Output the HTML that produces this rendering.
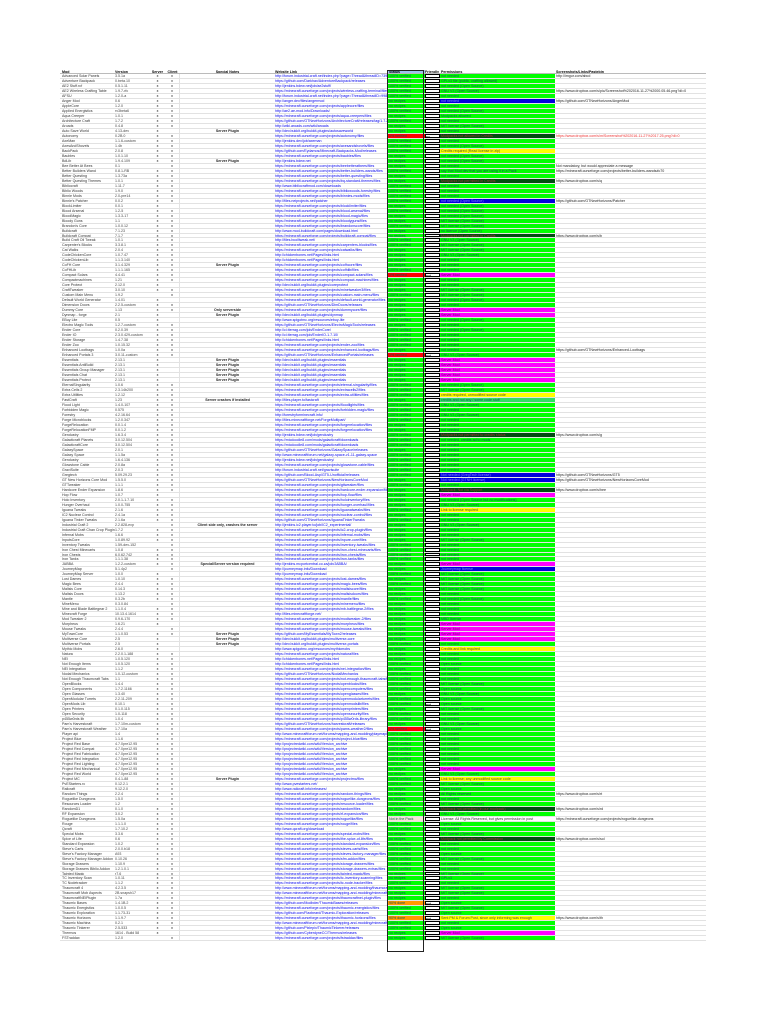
<!DOCTYPE html>
<html><head><meta charset="utf-8"><style>
html,body{margin:0;padding:0;background:#fff;width:768px;height:1024px;overflow:hidden}
body{font-family:"Liberation Sans",sans-serif;position:relative}
#t{position:absolute;left:60px;top:70px;width:646px}
.r{display:flex;height:4.99px;box-sizing:border-box;border-bottom:0.4px solid #e2e2e2;font-size:3.6px;line-height:4.6px;white-space:nowrap}
.r span{display:block;overflow:hidden;box-sizing:border-box;height:100%}
.r span:nth-child(1){width:55px;padding-left:2px;color:#333}
.r span:nth-child(2){width:35px;color:#444}
.r span:nth-child(3){width:15px;text-align:center}
.r span:nth-child(4){width:15px;text-align:center;border-right:0.4px solid #e2e2e2}
.r span:nth-child(5){width:95px;text-align:center;font-weight:bold;color:#222}
.r span:nth-child(6){width:113px;color:#0000ee;text-decoration:underline;text-decoration-thickness:0.8px}
.r span:nth-child(7){width:37px;background:#00ff00;color:#155;padding-left:1px}
.r span:nth-child(8){width:15px;background:#fff;border:0.8px solid #000;border-left-width:1.2px;border-right-width:1.2px}
.r span:nth-child(9){width:115px;background:#00ff00;color:#155;padding-left:1px}
.r span:nth-child(10){width:150px;color:#222;padding-left:1px;text-decoration:underline}
.h{height:4px;font-weight:bold;border-bottom:0.4px solid #bbb}
.h span{background:none!important;border:none!important;color:#000!important;text-decoration:none!important}
.h span:nth-child(7){background:#9cc3ee!important}
.sr span:nth-child(7){background:#ff0000}
.so span:nth-child(7){background:#ff9900}
.sb span:nth-child(7){background:#f3e7d6}
.pb span:nth-child(9){background:#0000dd;color:#88f}
.pd span:nth-child(9){background:#004d10;color:#a33}
.pm span:nth-child(9){background:#ff00ff;color:#606}
.py span:nth-child(9){background:#ffff00;color:#552}
.pl span:nth-child(9){background:#33dd66}
.pw span:nth-child(9){background:#fff;color:#333}
.rl span:nth-child(10){color:#e33}
#stb{position:absolute;left:387px;top:70px;width:37px;height:882px;border:1.3px solid #222;box-sizing:border-box;pointer-events:none}
</style></head><body>
<div id="t">
<div class="r h"><span>Mod</span><span>Version</span><span>Server</span><span>Client</span><span>Special Notes</span><span>Website Link</span><span>Status</span><span>Friendly</span><span>Permissions</span><span>Screenshots/Links/Pastebin</span></div>
<div class="r"><span>Advanced Solar Panels</span><span>3.5.1a</span><span>x</span><span>x</span><span></span><span>http://forum.industrial-craft.net/index.php?page=Thread&amp;threadID=7390</span><span>100% verified</span><span></span><span>not needed</span><span>http://imgur.com/abcd</span></div>
<div class="r"><span>Adventure Backpack</span><span>0.beta.10</span><span>x</span><span>x</span><span></span><span>https://github.com/Darkhax/AdventureBackpack/releases</span><span>100% verified</span><span></span><span>GPLv3 file (public, crafting allowed)</span><span></span></div>
<div class="r"><span>AE2 Stuff.rcf</span><span>0.5.1.11</span><span>x</span><span>x</span><span></span><span>http://jenkins.bdew.net/job/ae2stuff/</span><span>100% verified</span><span></span><span>not needed (Open Source)</span><span></span></div>
<div class="r"><span>AE2 Wireless Crafting Table</span><span>1.9.7-rfc</span><span>x</span><span>x</span><span></span><span>https://minecraft.curseforge.com/projects/wireless-crafting-terminal/files</span><span>100% verified</span><span></span><span>GNU V3 (Open Source)</span><span>https://www.dropbox.com/s/pic/Screenshot%202016-11-27%2000.05.46.png?dl=0</span></div>
<div class="r"><span>AFSU</span><span>1.2.0-a</span><span>x</span><span>x</span><span></span><span>http://forum.industrial-craft.net/index.php?page=Thread&amp;threadID=9981</span><span>100% verified</span><span></span><span>not needed</span><span></span></div>
<div class="r pb"><span>Anger Mod</span><span>0.6</span><span>x</span><span>x</span><span></span><span>http://anger.dev/files/angermod</span><span>no recipes</span><span></span><span>not needed</span><span>https://github.com/GTNewHorizons/AngerMod</span></div>
<div class="r"><span>AppleCore</span><span>1.2.0</span><span>x</span><span>x</span><span></span><span>https://minecraft.curseforge.com/projects/applecore/files</span><span>no recipes</span><span></span><span>not needed</span><span></span></div>
<div class="r"><span>Applied Energistics</span><span>rv3beta6</span><span>x</span><span>x</span><span></span><span>http://ae2.ae-mod.info/Downloads/</span><span>100% verified</span><span></span><span>not needed (Open Source)</span><span></span></div>
<div class="r"><span>Aqua Creeper</span><span>1.0.1</span><span>x</span><span>x</span><span></span><span>https://minecraft.curseforge.com/projects/aqua-creepers/files</span><span>no recipes</span><span></span><span>Modpacks allowed</span><span></span></div>
<div class="r"><span>Architecture Craft</span><span>1.7.2</span><span>x</span><span>x</span><span></span><span>https://github.com/GTNewHorizons/ArchitectureCraft/releases/tag/1.7.2</span><span>100% verified</span><span></span><span>not needed</span><span></span></div>
<div class="r"><span>Aroads</span><span>0.4.8</span><span>x</span><span>x</span><span></span><span>http://wiki.aroads.com/wiki/aroads</span><span>no recipes</span><span></span><span>MIT license (Open Source)</span><span></span></div>
<div class="r"><span>Auto Save World</span><span>4.13-dev</span><span>x</span><span></span><span>Server Plugin</span><span>http://dev.bukkit.org/bukkit-plugins/autosaveworld</span><span>no recipes</span><span></span><span>not needed</span><span></span></div>
<div class="r sr pd rl"><span>Autonomy</span><span>0.2B.0</span><span>x</span><span>x</span><span></span><span>https://minecraft.curseforge.com/projects/autonomy/files</span><span>1% verified</span><span>no</span><span>Modpacks not allowed in Credits</span><span>https://www.dropbox.com/s/m/Screenshot%202016-11-27%2017.25.png?dl=0</span></div>
<div class="r"><span>AxeMan</span><span>1.1.6-custom</span><span>x</span><span>x</span><span></span><span>http://jenkins.dev/job/axeman</span><span>100% verified</span><span></span><span>not needed</span><span></span></div>
<div class="r"><span>AxesAndShovels</span><span>1.4b</span><span>x</span><span>x</span><span></span><span>https://minecraft.curseforge.com/projects/axesandshovels/files</span><span>100% verified</span><span></span><span>not needed (Open Source)</span><span></span></div>
<div class="r py"><span>BackPack</span><span>2.0.8</span><span>x</span><span>x</span><span></span><span>https://github.com/Eydamos/Minecraft-Backpacks-Mod/releases</span><span>100% verified</span><span></span><span>Credits required (Read license in zip)</span><span></span></div>
<div class="r"><span>Baubles</span><span>1.0.1.10</span><span>x</span><span>x</span><span></span><span>https://minecraft.curseforge.com/projects/baubles/files</span><span>no recipes</span><span></span><span>not needed (Open Source)</span><span></span></div>
<div class="r"><span>BdLib</span><span>1.9.4.109</span><span>x</span><span>x</span><span>Server Plugin</span><span>http://jenkins.bdew.net</span><span>no recipes</span><span></span><span>not needed (Open Source)</span><span></span></div>
<div class="r"><span>Bee Better At Bees</span><span>0.1</span><span></span><span>x</span><span></span><span>https://minecraft.curseforge.com/projects/beebetteratbees/files</span><span>no recipes</span><span></span><span>not needed</span><span>Not mandatory, but would appreciate a message</span></div>
<div class="r"><span>Better Builders Wand</span><span>0.8.1-RB</span><span>x</span><span>x</span><span></span><span>https://minecraft.curseforge.com/projects/better-builders-wands/files</span><span>100% verified</span><span></span><span>say that Mod dev that you are using it in a Pack</span><span>https://minecraft.curseforge.com/projects/better-builders-wands#c70</span></div>
<div class="r"><span>Better Questing</span><span>1.3.73a</span><span>x</span><span>x</span><span></span><span>https://minecraft.curseforge.com/projects/better-questing/files</span><span>no recipes</span><span></span><span>not needed</span><span></span></div>
<div class="r pd"><span>Better Questing Themes</span><span>1.0.1</span><span>x</span><span>x</span><span></span><span>https://minecraft.curseforge.com/projects/bq-standard-themes/files</span><span>no recipes</span><span></span><span>Modpacks not permitted in Credits</span><span>https://www.dropbox.com/s/q</span></div>
<div class="r"><span>Bibliocraft</span><span>1.11.7</span><span>x</span><span>x</span><span></span><span>http://www.bibliocraftmod.com/downloads</span><span>100% verified</span><span></span><span>not needed</span><span></span></div>
<div class="r"><span>Biblio Woods</span><span>1.9.0</span><span>x</span><span>x</span><span></span><span>https://minecraft.curseforge.com/projects/bibliowoods-forestry/files</span><span>100% verified</span><span></span><span>not needed</span><span></span></div>
<div class="r"><span>Binnie Mods</span><span>2.0-pre14</span><span>x</span><span>x</span><span></span><span>https://minecraft.curseforge.com/projects/binnies-mods/files</span><span>100% verified</span><span></span><span>not needed</span><span></span></div>
<div class="r pb"><span>Binnie's Patcher</span><span>0.0.2</span><span>x</span><span>x</span><span></span><span>http://files.neiprojects.net/patcher</span><span>100% verified</span><span></span><span>not needed (Open Source)</span><span>https://github.com/GTNewHorizons/Patcher</span></div>
<div class="r"><span>BlockLimiter</span><span>0.0.1</span><span>x</span><span></span><span></span><span>https://minecraft.curseforge.com/projects/blocklimiter/files</span><span>no recipes</span><span></span><span>not needed (Open Source)</span><span></span></div>
<div class="r"><span>Blood Arsenal</span><span>1.2-5</span><span>x</span><span>x</span><span></span><span>https://minecraft.curseforge.com/projects/blood-arsenal/files</span><span>100% verified</span><span></span><span>not needed (Open Source)</span><span></span></div>
<div class="r"><span>BloodMagic</span><span>1.3.3-17</span><span>x</span><span>x</span><span></span><span>https://minecraft.curseforge.com/projects/blood-magic/files</span><span>no recipes</span><span></span><span>not needed (Open Source)</span><span></span></div>
<div class="r"><span>Bloody Guns</span><span>1.1</span><span>x</span><span>x</span><span></span><span>https://minecraft.curseforge.com/projects/bloodyguns/files</span><span>no recipes</span><span></span><span>MIT license (Open Source)</span><span></span></div>
<div class="r"><span>Brandon's Core</span><span>1.0.0.12</span><span>x</span><span>x</span><span></span><span>https://minecraft.curseforge.com/projects/brandonscore/files</span><span>100% verified</span><span></span><span>MIT license (Open Source)</span><span></span></div>
<div class="r"><span>Buildcraft</span><span>7.1.23</span><span>x</span><span>x</span><span></span><span>http://www.mod-buildcraft.com/pages/download.html</span><span>no recipes</span><span></span><span>no licence (Open Source)</span><span></span></div>
<div class="r pd"><span>Buildcraft Compat</span><span>7.1.7</span><span>x</span><span>x</span><span></span><span>https://minecraft.curseforge.com/projects/buildcraft-compat/files</span><span>no recipes</span><span></span><span>Modpacks not permitted in Credits</span><span>https://www.dropbox.com/s/b</span></div>
<div class="r"><span>Build Craft Oil Tweak</span><span>1.0.1</span><span>x</span><span>x</span><span></span><span>http://files.bcoiltweak.net/</span><span>100% verified</span><span></span><span>GNU V3 (Open Source)</span><span></span></div>
<div class="r"><span>Carpenter's Blocks</span><span>3.3.8.1</span><span>x</span><span>x</span><span></span><span>https://minecraft.curseforge.com/projects/carpenters-blocks/files</span><span>100% verified</span><span></span><span>MIT license (Open Source)</span><span></span></div>
<div class="r"><span>Cat Walks</span><span>2.0.4</span><span>x</span><span>x</span><span></span><span>https://minecraft.curseforge.com/projects/catwalks/files</span><span>no recipes</span><span></span><span>MIT license (Open Source)</span><span></span></div>
<div class="r"><span>CodeChickenCore</span><span>1.0.7.47</span><span>x</span><span>x</span><span></span><span>http://chickenbones.net/Pages/links.html</span><span>no recipes</span><span></span><span>GNU V3 (Open Source)</span><span></span></div>
<div class="r"><span>CodeChickenLib</span><span>1.1.3.140</span><span>x</span><span>x</span><span></span><span>http://chickenbones.net/Pages/links.html</span><span>no recipes</span><span></span><span>not needed</span><span></span></div>
<div class="r"><span>CoFH Core</span><span>3.1.4.329</span><span>x</span><span>x</span><span>Server Plugin</span><span>https://minecraft.curseforge.com/projects/cofhcore/files</span><span>no recipes</span><span></span><span>not needed</span><span></span></div>
<div class="r"><span>CoFHLib</span><span>1.1.1.165</span><span>x</span><span>x</span><span></span><span>https://minecraft.curseforge.com/projects/cofhlib/files</span><span>100% verified</span><span></span><span>not needed</span><span></span></div>
<div class="r sr pm"><span>Compact Solars</span><span>4.4.41</span><span>x</span><span>x</span><span></span><span>https://minecraft.curseforge.com/projects/compact-solars/files</span><span>1% verified</span><span>not</span><span>Server Mod</span><span></span></div>
<div class="r"><span>Compactmachines</span><span>1.21</span><span>x</span><span>x</span><span></span><span>https://minecraft.curseforge.com/projects/compact-machines/files</span><span>no recipes</span><span></span><span>not needed</span><span></span></div>
<div class="r"><span>Core Protect</span><span>2.12.0</span><span>x</span><span></span><span></span><span>http://dev.bukkit.org/bukkit-plugins/coreprotect</span><span>no recipes</span><span></span><span>not needed</span><span></span></div>
<div class="r"><span>CraftTweaker</span><span>3.0.10</span><span>x</span><span>x</span><span></span><span>https://minecraft.curseforge.com/projects/minetweaker3/files</span><span>no recipes</span><span></span><span>MIT license (Open Source)</span><span></span></div>
<div class="r"><span>Custom Main Menu</span><span>1.9.2</span><span></span><span>x</span><span></span><span>https://minecraft.curseforge.com/projects/custom-main-menu/files</span><span>100% verified</span><span></span><span>MIT license (Open Source)</span><span></span></div>
<div class="r"><span>Default World Generator</span><span>1.4.01</span><span>x</span><span></span><span></span><span>https://minecraft.curseforge.com/projects/default-world-generator/files</span><span>no recipes</span><span></span><span>not needed (Open Source)</span><span></span></div>
<div class="r"><span>Dimension Doors</span><span>2.2.5-custom</span><span>x</span><span>x</span><span></span><span>https://github.com/GTNewHorizons/DimDoors/releases</span><span>no recipes</span><span></span><span>not needed</span><span></span></div>
<div class="r pm"><span>Dummy Core</span><span>1.13</span><span>x</span><span>x</span><span>Only serverside</span><span>https://minecraft.curseforge.com/projects/dummycore/files</span><span>no recipes</span><span></span><span>Server Mod</span><span></span></div>
<div class="r pm"><span>Dynmap - forge</span><span>2.1</span><span>x</span><span></span><span>Server Plugin</span><span>http://dev.bukkit.org/bukkit-plugins/dynmap</span><span>no recipes</span><span></span><span>Server Mod</span><span></span></div>
<div class="r"><span>EBuy Lite</span><span>0.5</span><span>x</span><span></span><span></span><span>http://www.spigotmc.org/resources/ebuy-lite</span><span>100% verified</span><span></span><span>not needed (Open Source)</span><span></span></div>
<div class="r"><span>Electro Magic Tools</span><span>1.2.7-custom</span><span>x</span><span>x</span><span></span><span>https://github.com/GTNewHorizons/ElectroMagicTools/releases</span><span>no recipes</span><span></span><span>not needed</span><span></span></div>
<div class="r"><span>Ender Core</span><span>0.2.0.39</span><span>x</span><span>x</span><span></span><span>http://ci.tterrag.com/job/EnderCore/</span><span>100% verified</span><span></span><span>not needed (Open Source)</span><span></span></div>
<div class="r"><span>Ender IO</span><span>2.3.0.429-custom</span><span>x</span><span>x</span><span></span><span>http://ci.tterrag.com/job/EnderIO-1.7.10/</span><span>100% verified</span><span></span><span>not needed</span><span></span></div>
<div class="r"><span>Ender Storage</span><span>1.4.7.38</span><span>x</span><span>x</span><span></span><span>http://chickenbones.net/Pages/links.html</span><span>100% verified</span><span></span><span>not needed</span><span></span></div>
<div class="r"><span>Ender Zoo</span><span>1.0.15.32</span><span>x</span><span>x</span><span></span><span>https://minecraft.curseforge.com/projects/ender-zoo/files</span><span>100% verified</span><span></span><span>not needed</span><span></span></div>
<div class="r"><span>Enhanced Lootbags</span><span>1.0.0a</span><span>x</span><span>x</span><span></span><span>https://minecraft.curseforge.com/projects/enhanced-lootbags/files</span><span>no recipes</span><span></span><span>not needed</span><span>https://github.com/GTNewHorizons/Enhanced-Lootbags</span></div>
<div class="r sr"><span>Enhanced Portals 3</span><span>3.0.11-custom</span><span>x</span><span>x</span><span></span><span>https://github.com/GTNewHorizons/EnhancedPortals/releases</span><span>1% verified</span><span>not</span><span>GNU V3 (Open Source)</span><span></span></div>
<div class="r pm"><span>Essentials</span><span>2.13.1</span><span>x</span><span></span><span>Server Plugin</span><span>http://dev.bukkit.org/bukkit-plugins/essentials</span><span>no recipes</span><span></span><span>Server Mod</span><span></span></div>
<div class="r pm"><span>Essentials AntiBuild</span><span>2.13.1</span><span>x</span><span></span><span>Server Plugin</span><span>http://dev.bukkit.org/bukkit-plugins/essentials</span><span>no recipes</span><span></span><span>Server Mod</span><span></span></div>
<div class="r pm"><span>Essentials Group Manager</span><span>2.13.1</span><span>x</span><span></span><span>Server Plugin</span><span>http://dev.bukkit.org/bukkit-plugins/essentials</span><span>no recipes</span><span></span><span>Server Mod</span><span></span></div>
<div class="r pm"><span>Essentials Chat</span><span>2.13.1</span><span>x</span><span></span><span>Server Plugin</span><span>http://dev.bukkit.org/bukkit-plugins/essentials</span><span>no recipes</span><span></span><span>Server Mod</span><span></span></div>
<div class="r pm"><span>Essentials Protect</span><span>2.13.1</span><span>x</span><span></span><span>Server Plugin</span><span>http://dev.bukkit.org/bukkit-plugins/essentials</span><span>no recipes</span><span></span><span>Server Mod</span><span></span></div>
<div class="r"><span>EternalSingularity</span><span>1.0.6</span><span>x</span><span>x</span><span></span><span>https://minecraft.curseforge.com/projects/eternal-singularity/files</span><span>100% verified</span><span></span><span>not needed (Open Source)</span><span></span></div>
<div class="r"><span>Extra Cells 2</span><span>2.3.14b200</span><span>x</span><span>x</span><span></span><span>https://minecraft.curseforge.com/projects/extracells2/files</span><span>100% verified</span><span></span><span>MIT license (Open Source)</span><span></span></div>
<div class="r py"><span>Extra Utilities</span><span>1.2.12</span><span>x</span><span>x</span><span></span><span>https://minecraft.curseforge.com/projects/extra-utilities/files</span><span>100% verified</span><span></span><span>credits required, unmodified source code</span><span></span></div>
<div class="r pl"><span>FastCraft</span><span>1.23</span><span>x</span><span>x</span><span>Server crashes if installed</span><span>http://files.player.to/fastcraft</span><span>no recipes</span><span></span><span>credits and not any / some code stuff</span><span></span></div>
<div class="r"><span>Flood Light</span><span>1.4.0-107</span><span>x</span><span>x</span><span></span><span>https://minecraft.curseforge.com/projects/floodlights/files</span><span>100% verified</span><span></span><span>GNU V3 (Open Source)</span><span></span></div>
<div class="r"><span>Forbidden Magic</span><span>0.575</span><span>x</span><span>x</span><span></span><span>https://minecraft.curseforge.com/projects/forbidden-magic/files</span><span>100% verified</span><span></span><span>not needed</span><span></span></div>
<div class="r"><span>Forestry</span><span>4.2.16.64</span><span>x</span><span>x</span><span></span><span>http://forestryforminecraft.info/</span><span>100% verified</span><span></span><span>GNU V3 (Open Source)</span><span></span></div>
<div class="r"><span>Forge Microblocks</span><span>1.2.0.347</span><span>x</span><span>x</span><span></span><span>http://files.minecraftforge.net/ForgeMultipart/</span><span>100% verified</span><span></span><span>not needed</span><span></span></div>
<div class="r"><span>ForgeRelocation</span><span>0.0.1.4</span><span>x</span><span>x</span><span></span><span>https://minecraft.curseforge.com/projects/forgerelocation/files</span><span>no recipes</span><span></span><span>not needed</span><span></span></div>
<div class="r"><span>ForgeRelocationFMP</span><span>0.0.1.2</span><span>x</span><span>x</span><span></span><span>https://minecraft.curseforge.com/projects/forgerelocation/files</span><span>no recipes</span><span></span><span>not needed</span><span></span></div>
<div class="r pd"><span>Gendustry</span><span>1.6.3.4</span><span>x</span><span>x</span><span></span><span>http://jenkins.bdew.net/job/gendustry</span><span>100% verified</span><span></span><span>Modpacks not permitted to credits status</span><span>https://www.dropbox.com/s/g</span></div>
<div class="r"><span>Galacticraft Planets</span><span>3.0.12.504</span><span>x</span><span>x</span><span></span><span>https://micdoodle8.com/mods/galacticraft/downloads</span><span>100% verified</span><span></span><span>not needed, credits ad to mods</span><span></span></div>
<div class="r"><span>GalacticraftCore</span><span>3.0.12.504</span><span>x</span><span>x</span><span></span><span>https://micdoodle8.com/mods/galacticraft/downloads</span><span>100% verified</span><span></span><span>not needed</span><span></span></div>
<div class="r"><span>GalaxySpace</span><span>2.0.1</span><span>x</span><span>x</span><span></span><span>https://github.com/GTNewHorizons/GalaxySpace/releases</span><span>no recipes</span><span></span><span>not needed</span><span></span></div>
<div class="r"><span>Galaxy Space</span><span>1.1.5a</span><span>x</span><span>x</span><span></span><span>http://www.minecraftforum.net/galaxy-space-v1-11-galaxy-space</span><span>100% verified</span><span></span><span>not needed</span><span></span></div>
<div class="r"><span>Gendustry</span><span>1.6.4.136</span><span>x</span><span>x</span><span></span><span>http://jenkins.bdew.net/job/gendustry/</span><span>100% verified</span><span></span><span>not needed</span><span></span></div>
<div class="r"><span>Glowstone Cable</span><span>2.0.8a</span><span>x</span><span>x</span><span></span><span>https://minecraft.curseforge.com/projects/glowstone-cable/files</span><span>100% verified</span><span></span><span>not needed</span><span></span></div>
<div class="r"><span>GraviSuite</span><span>2.0.3</span><span>x</span><span>x</span><span></span><span>http://forum.industrial-craft.net/gravisuite</span><span>100% verified</span><span></span><span>not needed</span><span></span></div>
<div class="r pb"><span>Gregtech</span><span>5.09.29.23</span><span>x</span><span>x</span><span></span><span>https://github.com/Blood-Asp/GT5-Unofficial/releases</span><span>100% verified</span><span></span><span>Not needed (GregTech license)</span><span>https://github.com/GTNewHorizons/GT5</span></div>
<div class="r pb"><span>GT New Horizons Core Mod</span><span>1.5.5.0</span><span>x</span><span>x</span><span></span><span>https://github.com/GTNewHorizons/NewHorizonsCoreMod</span><span>no recipes</span><span></span><span>Not needed (GTNH license)</span><span>https://github.com/GTNewHorizons/NewHorizonsCoreMod</span></div>
<div class="r"><span>GTTweaker</span><span>1.1.1</span><span>x</span><span>x</span><span></span><span>https://minecraft.curseforge.com/projects/gttweaker/files</span><span>100% verified</span><span></span><span>not needed</span><span></span></div>
<div class="r pd"><span>Hardcore Ender Expansion</span><span>1.8.6</span><span>x</span><span>x</span><span></span><span>https://minecraft.curseforge.com/projects/hardcore-ender-expansion/files</span><span>no recipes</span><span></span><span>Modpack: Not via Support</span><span>https://www.dropbox.com/s/hee</span></div>
<div class="r pm"><span>Hop Flow</span><span>1.0.7</span><span>x</span><span></span><span></span><span>https://minecraft.curseforge.com/projects/hop-flow/files</span><span>no recipes</span><span></span><span>Server Mod</span><span></span></div>
<div class="r"><span>Holo Inventory</span><span>2.0.1-1.7.10</span><span>x</span><span>x</span><span></span><span>https://minecraft.curseforge.com/projects/holoinventory/files</span><span>no recipes</span><span></span><span>not needed (Open Source but no modifications)</span><span></span></div>
<div class="r"><span>Hunger Overhaul</span><span>1.0.0-755</span><span>x</span><span>x</span><span></span><span>https://minecraft.curseforge.com/projects/hunger-overhaul/files</span><span>no recipes</span><span></span><span>GNU V3 (Open Source)</span><span></span></div>
<div class="r py"><span>Iguana Tweaks</span><span>2.1.6</span><span>x</span><span>x</span><span></span><span>https://minecraft.curseforge.com/projects/iguanatweaks/files</span><span>100% verified</span><span></span><span>Link to license required</span><span></span></div>
<div class="r"><span>IC2 Nuclear Control</span><span>2.4.1a</span><span>x</span><span>x</span><span></span><span>https://minecraft.curseforge.com/projects/nuclear-control/files</span><span>no recipes</span><span></span><span>not needed</span><span></span></div>
<div class="r"><span>Iguana Tinker Tweaks</span><span>2.1.6a</span><span>x</span><span>x</span><span></span><span>https://github.com/GTNewHorizons/IguanaTinkerTweaks</span><span>100% verified</span><span></span><span>not needed</span><span></span></div>
<div class="r"><span>Industrial Craft 2</span><span>2.2.828-exp</span><span></span><span>x</span><span>Client side only, crashes the server</span><span>http://jenkins.ic2.player.to/job/IC2_experimental/</span><span>no recipes</span><span></span><span>GNU V3 (Open Source)</span><span></span></div>
<div class="r"><span>Industrial Craft Chan Crop Plugin</span><span>1.7.2</span><span>x</span><span>x</span><span></span><span>https://minecraft.curseforge.com/projects/ic2-crop-plugin/files</span><span>no recipes</span><span></span><span>not needed</span><span></span></div>
<div class="r"><span>Infernal Mobs</span><span>1.6.6</span><span>x</span><span>x</span><span></span><span>https://minecraft.curseforge.com/projects/infernal-mobs/files</span><span>no recipes</span><span></span><span>not needed</span><span></span></div>
<div class="r"><span>InputsCore</span><span>1.0.89.92</span><span>x</span><span>x</span><span></span><span>https://minecraft.curseforge.com/projects/inpure-core/files</span><span>no recipes</span><span></span><span>MIT license (Open Source)</span><span></span></div>
<div class="r"><span>Inventory Tweaks</span><span>1.59-dev-152</span><span></span><span>x</span><span></span><span>https://minecraft.curseforge.com/projects/inventory-tweaks/files</span><span>100% verified</span><span></span><span>not needed</span><span></span></div>
<div class="r"><span>Iron Chest Minecarts</span><span>1.0.8</span><span>x</span><span>x</span><span></span><span>https://minecraft.curseforge.com/projects/iron-chest-minecarts/files</span><span>100% verified</span><span></span><span>not needed</span><span></span></div>
<div class="r"><span>Iron Chests</span><span>6.0.62.742</span><span>x</span><span>x</span><span></span><span>https://minecraft.curseforge.com/projects/iron-chests/files</span><span>100% verified</span><span></span><span>not needed</span><span></span></div>
<div class="r"><span>Iron Tanks</span><span>1.1.1.38</span><span>x</span><span>x</span><span></span><span>https://minecraft.curseforge.com/projects/iron-tanks/files</span><span>100% verified</span><span></span><span>not needed</span><span></span></div>
<div class="r pm"><span>JABBA</span><span>1.2.2-custom</span><span>x</span><span>x</span><span>Special/Server version required</span><span>http://jenkins.mcportcentral.co.za/job/JABBA/</span><span>no recipes</span><span></span><span>Server Mod</span><span></span></div>
<div class="r pb"><span>JourneyMap</span><span>5.1.4p2</span><span></span><span>x</span><span></span><span>http://journeymap.info/Download</span><span>no recipes</span><span></span><span>Journeymap license</span><span></span></div>
<div class="r"><span>JourneyMap Server</span><span>1.0.0</span><span>x</span><span></span><span></span><span>http://journeymap.info/Download</span><span>100% verified</span><span></span><span>MIT license (Open Source)</span><span></span></div>
<div class="r"><span>Lost Dames</span><span>1.0.10</span><span>x</span><span>x</span><span></span><span>https://minecraft.curseforge.com/projects/lost-dames/files</span><span>no recipes</span><span></span><span>MIT license (Open Source)</span><span></span></div>
<div class="r"><span>Magic Bees</span><span>2.4.4</span><span>x</span><span>x</span><span></span><span>https://minecraft.curseforge.com/projects/magic-bees/files</span><span>100% verified</span><span></span><span>MIT license (Open Source)</span><span></span></div>
<div class="r"><span>Malisis Core</span><span>0.14.3</span><span>x</span><span>x</span><span></span><span>https://minecraft.curseforge.com/projects/malisiscore/files</span><span>no recipes</span><span></span><span>MIT license (Open Source)</span><span></span></div>
<div class="r"><span>Malisis Doors</span><span>1.13.2</span><span>x</span><span>x</span><span></span><span>https://minecraft.curseforge.com/projects/malisisdoors/files</span><span>no recipes</span><span></span><span>not needed</span><span></span></div>
<div class="r"><span>Mantle</span><span>0.3.2b</span><span>x</span><span>x</span><span></span><span>https://minecraft.curseforge.com/projects/mantle/files</span><span>100% verified</span><span></span><span>not needed (Open Source)</span><span></span></div>
<div class="r"><span>MineMenu</span><span>0.3.0.84</span><span></span><span>x</span><span></span><span>https://minecraft.curseforge.com/projects/minemenu/files</span><span>no recipes</span><span></span><span>not needed</span><span></span></div>
<div class="r"><span>Mine and Blade Battlegear 2</span><span>1.1.0.4</span><span>x</span><span>x</span><span></span><span>https://minecraft.curseforge.com/projects/mb-battlegear-2/files</span><span>no recipes</span><span></span><span>not needed</span><span></span></div>
<div class="r"><span>Minecraft Forge</span><span>10.13.4.1614</span><span>x</span><span>x</span><span></span><span>http://files.minecraftforge.net/</span><span>no recipes</span><span></span><span>not needed</span><span></span></div>
<div class="r"><span>Mod Tweaker 2</span><span>0.9.6-170</span><span>x</span><span>x</span><span></span><span>https://minecraft.curseforge.com/projects/modtweaker-2/files</span><span>no recipes</span><span></span><span>MBD license</span><span></span></div>
<div class="r pm"><span>Morpheus</span><span>1.6.21</span><span>x</span><span></span><span></span><span>https://minecraft.curseforge.com/projects/morpheus/files</span><span>no recipes</span><span></span><span>Server Mod</span><span></span></div>
<div class="r pm"><span>Mouse Tweaks</span><span>2.4.4</span><span></span><span>x</span><span></span><span>https://minecraft.curseforge.com/projects/mouse-tweaks/files</span><span>no recipes</span><span></span><span>Server Mod</span><span></span></div>
<div class="r pm"><span>MyTownCore</span><span>1.1.0.53</span><span>x</span><span>x</span><span>Server Plugin</span><span>https://github.com/MyEssentials/MyTown2/releases</span><span>no recipes</span><span></span><span>Server Mod</span><span></span></div>
<div class="r pm"><span>Multiverse Core</span><span>2.5</span><span>x</span><span></span><span>Server Plugin</span><span>http://dev.bukkit.org/bukkit-plugins/multiverse-core</span><span>no recipes</span><span></span><span>Server Mod</span><span></span></div>
<div class="r"><span>Multiverse Portals</span><span>2.5</span><span>x</span><span></span><span>Server Plugin</span><span>http://dev.bukkit.org/bukkit-plugins/multiverse-portals</span><span>100% verified</span><span></span><span>not needed</span><span></span></div>
<div class="r py"><span>Mythic Mobs</span><span>2.6.0</span><span>x</span><span></span><span></span><span>http://www.spigotmc.org/resources/mythicmobs</span><span>no recipes</span><span></span><span>Credits and link required</span><span></span></div>
<div class="r"><span>Natura</span><span>2.2.0.1-188</span><span>x</span><span>x</span><span></span><span>https://minecraft.curseforge.com/projects/natura/files</span><span>no recipes</span><span></span><span>not needed</span><span></span></div>
<div class="r"><span>NEI</span><span>1.0.5.120</span><span>x</span><span>x</span><span></span><span>http://chickenbones.net/Pages/links.html</span><span>no recipes</span><span></span><span>not needed</span><span></span></div>
<div class="r"><span>Not Enough Items</span><span>1.0.5.120</span><span>x</span><span>x</span><span></span><span>http://chickenbones.net/Pages/links.html</span><span>100% verified</span><span></span><span>Open source</span><span></span></div>
<div class="r"><span>NEI Integration</span><span>1.1.2</span><span>x</span><span>x</span><span></span><span>https://minecraft.curseforge.com/projects/nei-integration/files</span><span>no recipes</span><span></span><span>not needed</span><span></span></div>
<div class="r"><span>Nodal Mechanics</span><span>1.0-12-custom</span><span>x</span><span>x</span><span></span><span>https://github.com/GTNewHorizons/NodalMechanics</span><span>100% verified</span><span></span><span>not needed</span><span></span></div>
<div class="r"><span>Not Enough Thaumcraft Tabs</span><span>1.1</span><span>x</span><span>x</span><span></span><span>https://minecraft.curseforge.com/projects/not-enough-thaumcraft-tabs/files</span><span>100% verified</span><span></span><span>not needed</span><span></span></div>
<div class="r"><span>OpenBlocks</span><span>1.4.4</span><span>x</span><span>x</span><span></span><span>https://minecraft.curseforge.com/projects/openblocks/files</span><span>100% verified</span><span></span><span>MIT license (Open Source)</span><span></span></div>
<div class="r"><span>Open Components</span><span>1.7.2.1166</span><span>x</span><span>x</span><span></span><span>https://minecraft.curseforge.com/projects/opencomputers/files</span><span>100% verified</span><span></span><span>Open source</span><span></span></div>
<div class="r"><span>Open Glasses</span><span>1.3.40</span><span>x</span><span>x</span><span></span><span>https://minecraft.curseforge.com/projects/openglasses/files</span><span>no recipes</span><span></span><span>GNU V3 (Open Source)</span><span></span></div>
<div class="r"><span>OpenModular Turrets</span><span>2.2.11-209</span><span>x</span><span>x</span><span></span><span>https://minecraft.curseforge.com/projects/openmodularturrets/files</span><span>100% verified</span><span></span><span>Open source</span><span></span></div>
<div class="r"><span>OpenMods Lib</span><span>0.10.1</span><span>x</span><span>x</span><span></span><span>https://minecraft.curseforge.com/projects/openmodslib/files</span><span>100% verified</span><span>not</span><span>Open source</span><span></span></div>
<div class="r"><span>Open Printers</span><span>0.1.0.115</span><span>x</span><span>x</span><span></span><span>https://minecraft.curseforge.com/projects/openprinters/files</span><span>no recipes</span><span></span><span>MIT license (Open Source)</span><span></span></div>
<div class="r"><span>Open Security</span><span>1.0-118</span><span>x</span><span>x</span><span></span><span>https://minecraft.curseforge.com/projects/opensecurity/files</span><span>100% verified</span><span></span><span>not needed</span><span></span></div>
<div class="r"><span>p455w0rds lib</span><span>1.0.4</span><span>x</span><span>x</span><span></span><span>https://minecraft.curseforge.com/projects/p455w0rds-library/files</span><span>100% verified</span><span></span><span>not needed</span><span></span></div>
<div class="r"><span>Pam's Harvestcraft</span><span>1.7.10m-custom</span><span>x</span><span>x</span><span></span><span>https://github.com/GTNewHorizons/harvestcraft/releases</span><span>no recipes</span><span></span><span>GNU V3 (Open Source)</span><span></span></div>
<div class="r sr"><span>Pam's Harvestcraft Weather</span><span>1.7.10a</span><span>x</span><span>x</span><span></span><span>https://minecraft.curseforge.com/projects/pams-weather2/files</span><span>1% verified</span><span>not</span><span>Open source</span><span></span></div>
<div class="r"><span>Player api</span><span>1.4</span><span>x</span><span>x</span><span></span><span>http://www.minecraftforum.net/forums/mapping-and-modding/playerapi</span><span>100% verified</span><span></span><span>not needed</span><span></span></div>
<div class="r"><span>Project Blue</span><span>1.1.6</span><span>x</span><span>x</span><span></span><span>https://minecraft.curseforge.com/projects/project-blue/files</span><span>100% verified</span><span></span><span>not needed</span><span></span></div>
<div class="r"><span>Project Red Base</span><span>4.7.0pre12.95</span><span>x</span><span>x</span><span></span><span>http://projectredwiki.com/wiki/Version_archive</span><span>100% verified</span><span></span><span>not needed</span><span></span></div>
<div class="r"><span>Project Red Compat</span><span>4.7.0pre12.95</span><span>x</span><span>x</span><span></span><span>http://projectredwiki.com/wiki/Version_archive</span><span>100% verified</span><span></span><span>not needed</span><span></span></div>
<div class="r"><span>Project Red Fabrication</span><span>4.7.0pre12.95</span><span>x</span><span>x</span><span></span><span>http://projectredwiki.com/wiki/Version_archive</span><span>100% verified</span><span></span><span>not needed</span><span></span></div>
<div class="r"><span>Project Red Integration</span><span>4.7.0pre12.95</span><span>x</span><span>x</span><span></span><span>http://projectredwiki.com/wiki/Version_archive</span><span>100% verified</span><span></span><span>not needed</span><span></span></div>
<div class="r"><span>Project Red Lighting</span><span>4.7.0pre12.95</span><span>x</span><span>x</span><span></span><span>http://projectredwiki.com/wiki/Version_archive</span><span>100% verified</span><span></span><span>not needed</span><span></span></div>
<div class="r pm"><span>Project Red Mechanical</span><span>4.7.0pre12.95</span><span>x</span><span>x</span><span></span><span>http://projectredwiki.com/wiki/Version_archive</span><span>no recipes</span><span></span><span>Server Mod</span><span></span></div>
<div class="r"><span>Project Red World</span><span>4.7.0pre12.95</span><span>x</span><span>x</span><span></span><span>http://projectredwiki.com/wiki/Version_archive</span><span>no recipes</span><span></span><span>GNU V3 (Open Source)</span><span></span></div>
<div class="r py"><span>Project MC</span><span>0.4.1-88</span><span>x</span><span>x</span><span>Server Plugin</span><span>https://minecraft.curseforge.com/projects/projectmc/files</span><span>100% verified</span><span></span><span>Link to license; any unmodified source code</span><span></span></div>
<div class="r"><span>PvEStarters.rc</span><span>0.12.2.1</span><span>x</span><span>x</span><span></span><span>http://www.pvestarters.net/</span><span>100% verified</span><span></span><span>MIT license (Open Source)</span><span></span></div>
<div class="r"><span>Railcraft</span><span>9.12.2.0</span><span>x</span><span>x</span><span></span><span>http://www.railcraft.info/releases/</span><span>no recipes</span><span></span><span>Open source</span><span></span></div>
<div class="r"><span>Random Things</span><span>2.2.4</span><span>x</span><span>x</span><span></span><span>https://minecraft.curseforge.com/projects/random-things/files</span><span>no recipes</span><span></span><span>All Rights reserved</span><span>https://www.dropbox.com/s/rt</span></div>
<div class="r"><span>Roguelike Dungeons</span><span>1.5.0</span><span>x</span><span>x</span><span></span><span>https://minecraft.curseforge.com/projects/roguelike-dungeons/files</span><span>no recipes</span><span></span><span>not needed</span><span></span></div>
<div class="r"><span>Resources Loader</span><span>1.2</span><span></span><span>x</span><span></span><span>https://minecraft.curseforge.com/projects/resource-loader/files</span><span>100% verified</span><span></span><span>MIT license (Open Source)</span><span></span></div>
<div class="r pd"><span>RandomD1</span><span>0.1.0</span><span>x</span><span>x</span><span></span><span>https://minecraft.curseforge.com/projects/random/files</span><span>no recipes</span><span></span><span>Modpack not permitted (in our modpack)</span><span>https://www.dropbox.com/s/rd</span></div>
<div class="r"><span>RF Expansion</span><span>3.0.2</span><span>x</span><span>x</span><span></span><span>https://minecraft.curseforge.com/projects/rf-expansion/files</span><span>no recipes</span><span></span><span>GNU V3 (Open Source)</span><span></span></div>
<div class="r sb pw"><span>Roguelike Dungeons</span><span>1.5.0a</span><span>x</span><span>x</span><span></span><span>https://minecraft.curseforge.com/projects/roguelike/files</span><span>Not in the Pack</span><span></span><span>License: All Rights Reserved, but gives permission in post</span><span>https://minecraft.curseforge.com/projects/roguelike-dungeons</span></div>
<div class="r"><span>Rouge</span><span>1.1.1.0</span><span>x</span><span>x</span><span></span><span>https://minecraft.curseforge.com/projects/rouge/files</span><span>100% verified</span><span></span><span>Open source</span><span></span></div>
<div class="r"><span>Qcraft</span><span>1.7.10.2</span><span>x</span><span>x</span><span></span><span>http://www.qcraft.org/download</span><span>100% verified</span><span></span><span>not needed</span><span></span></div>
<div class="r"><span>Special Mobs</span><span>3.3.6</span><span>x</span><span>x</span><span></span><span>https://minecraft.curseforge.com/projects/special-mobs/files</span><span>no recipes</span><span></span><span>MIT license (Open Source)</span><span></span></div>
<div class="r pd"><span>Spice of Life</span><span>0.6</span><span>x</span><span>x</span><span></span><span>https://minecraft.curseforge.com/projects/the-spice-of-life/files</span><span>no recipes</span><span></span><span>Modpack not permitted by Commission</span><span>https://www.dropbox.com/s/sol</span></div>
<div class="r"><span>Standard Expansion</span><span>1.0.2</span><span>x</span><span>x</span><span></span><span>https://minecraft.curseforge.com/projects/standard-expansion/files</span><span>100% verified</span><span></span><span>not needed</span><span></span></div>
<div class="r"><span>Steve's Carts</span><span>2.0.0.b18</span><span>x</span><span>x</span><span></span><span>https://minecraft.curseforge.com/projects/steves-carts/files</span><span>100% verified</span><span></span><span>not needed</span><span></span></div>
<div class="r"><span>Steve's Factory Manager</span><span>A93</span><span>x</span><span>x</span><span></span><span>https://minecraft.curseforge.com/projects/steves-factory-manager/files</span><span>100% verified</span><span></span><span>Open source</span><span></span></div>
<div class="r"><span>Steve's Factory Manager Addon</span><span>0.10.26</span><span>x</span><span>x</span><span></span><span>https://minecraft.curseforge.com/projects/sfm-addon/files</span><span>100% verified</span><span></span><span>MIT license (Open Source)</span><span></span></div>
<div class="r"><span>Storage Drawers</span><span>1.10.9</span><span>x</span><span>x</span><span></span><span>https://minecraft.curseforge.com/projects/storage-drawers/files</span><span>100% verified</span><span></span><span>not needed</span><span></span></div>
<div class="r"><span>Storage Drawers Biblio Addon</span><span>1.2.1.0.1</span><span>x</span><span>x</span><span></span><span>https://minecraft.curseforge.com/projects/storage-drawers-extras/files</span><span>100% verified</span><span></span><span>not needed</span><span></span></div>
<div class="r"><span>Tainted Magic</span><span>r7.6</span><span>x</span><span>x</span><span></span><span>https://minecraft.curseforge.com/projects/tainted-magic/files</span><span>no recipes</span><span></span><span>MIT license (Open Source)</span><span></span></div>
<div class="r"><span>TC Inventory Scan</span><span>1.0.11</span><span>x</span><span>x</span><span></span><span>https://minecraft.curseforge.com/projects/tc-inventory-scanning/files</span><span>no recipes</span><span></span><span>GPLv3</span><span></span></div>
<div class="r"><span>TC Nodetracker</span><span>1.1.2</span><span>x</span><span>x</span><span></span><span>https://minecraft.curseforge.com/projects/tc-node-tracker/files</span><span>100% verified</span><span></span><span>not needed</span><span></span></div>
<div class="r"><span>Thaumcraft 4</span><span>4.2.3.5</span><span>x</span><span>x</span><span></span><span>http://www.minecraftforum.net/forums/mapping-and-modding/thaumcraft</span><span>no recipes</span><span></span><span>MIT license (Open Source)</span><span></span></div>
<div class="r"><span>Thaumcraft Mob Aspects</span><span>2B.snapsh17</span><span>x</span><span>x</span><span></span><span>http://www.minecraftforum.net/forums/mapping-and-modding/minecraft-mods</span><span>no recipes</span><span></span><span>MIT license (Open Source)</span><span></span></div>
<div class="r"><span>ThaumcraftNEIPlugin</span><span>1.7a</span><span>x</span><span>x</span><span></span><span>https://minecraft.curseforge.com/projects/thaumcraftnei-plugin/files</span><span>no recipes</span><span></span><span>not needed</span><span></span></div>
<div class="r so"><span>Thaumic Bases</span><span>1.4.1B.2</span><span>x</span><span>x</span><span></span><span>https://github.com/Modbder/ThaumicBases/releases</span><span>90% done</span><span>not</span><span>Open source</span><span></span></div>
<div class="r"><span>Thaumic Energistics</span><span>1.0.0.5</span><span>x</span><span>x</span><span></span><span>https://minecraft.curseforge.com/projects/thaumic-energistics/files</span><span>100% verified</span><span></span><span>MIT license (Open Source)</span><span></span></div>
<div class="r"><span>Thaumic Exploration</span><span>1.1.73-31</span><span>x</span><span>x</span><span></span><span>https://github.com/Flaxbeard/Thaumic-Exploration/releases</span><span>100% verified</span><span></span><span>Open source</span><span></span></div>
<div class="r so py"><span>Thaumic Horizons</span><span>1.1.9.7</span><span>x</span><span>x</span><span></span><span>https://minecraft.curseforge.com/projects/thaumic-horizons/files</span><span>90% done</span><span>not</span><span>Sent PM &amp; Forum Post, since only informing was enough</span><span>https://www.dropbox.com/s/th</span></div>
<div class="r"><span>Thaumic Machina</span><span>0.2.1</span><span>x</span><span>x</span><span></span><span>http://www.minecraftforum.net/forums/mapping-and-modding/minecraft-mods</span><span>100% verified</span><span></span><span>not needed</span><span></span></div>
<div class="r"><span>Thaumic Tinkerer</span><span>2.5-533</span><span>x</span><span>x</span><span></span><span>https://github.com/Pixlepix/ThaumicTinkerer/releases</span><span>100% verified</span><span></span><span>Open source</span><span></span></div>
<div class="r pm"><span>Thermos</span><span>1614 - Build 58</span><span>x</span><span></span><span></span><span>https://github.com/CyberdyneCC/Thermos/releases</span><span>no recipes</span><span></span><span>Server Mod</span><span></span></div>
<div class="r"><span>FSTraddax</span><span>1.2.0</span><span></span><span>x</span><span></span><span>https://minecraft.curseforge.com/projects/fstraddax/files</span><span>no recipes</span><span></span><span>MIT license (Open Source)</span><span></span></div>
</div>
<div id="stb"></div>
</body></html>
